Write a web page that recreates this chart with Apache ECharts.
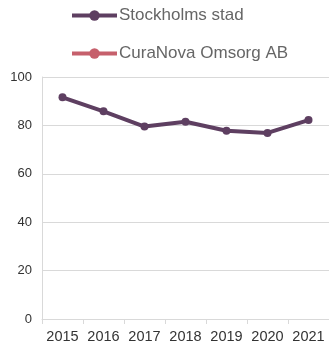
<!DOCTYPE html>
<html>
<head>
<meta charset="utf-8">
<script src="https://cdn.jsdelivr.net/npm/echarts@6/dist/echarts.min.js"></script>
<style>
  html, body { margin: 0; padding: 0; background: #fff; }
  #chart { width: 329px; height: 347px; }
</style>
</head>
<body>
<div id="chart"></div>
<script>
// Years on the category axis
const years = ['2015', '2016', '2017', '2018', '2019', '2020', '2021'];
// Yearly values per organisation
const stockholmsStad = [91.6, 85.8, 79.5, 81.5, 77.8, 76.9, 82.2];
const curaNova = [null, null, null, null, null, null, null];
// Value axis ticks
const yTicks = [0, 20, 40, 60, 80, 100];

const chart = echarts.init(document.getElementById('chart'), null, { renderer: 'canvas' });

chart.setOption({
  animation: false,
  legend: {
    orient: 'vertical',
    left: 65,
    top: 2,
    itemWidth: 45,
    itemHeight: 13,
    itemGap: 21,
    lineStyle: { width: 4 },
    textStyle: { fontFamily: 'Liberation Sans, Arial, sans-serif', fontSize: 17, color: '#666666', padding: [0, 0, 0, -3] },
    data: ['Stockholms stad', 'CuraNova Omsorg AB']
  },
  grid: { left: 42, right: -4, top: 77, bottom: 28, containLabel: false },
  xAxis: {
    type: 'category',
    data: years,
    boundaryGap: true,
    axisLine: { lineStyle: { color: '#d9d9d9', width: 1 } },
    axisTick: { show: true, length: 5, interval: 0, lineStyle: { color: '#d9d9d9' } },
    axisLabel: { interval: 0, fontFamily: 'Liberation Sans, Arial, sans-serif', fontSize: 14.5, color: '#333333', margin: 10 }
  },
  yAxis: {
    type: 'value',
    min: yTicks[0],
    max: yTicks[yTicks.length - 1],
    interval: 20,
    axisLine: { show: true, lineStyle: { color: '#d9d9d9', width: 1 } },
    axisTick: { show: false },
    splitLine: { lineStyle: { color: '#d9d9d9', width: 1 } },
    axisLabel: { fontFamily: 'Liberation Sans, Arial, sans-serif', fontSize: 13, color: '#333333', margin: 10 }
  },
  series: [
    {
      name: 'Stockholms stad',
      type: 'line',
      data: stockholmsStad,
      symbol: 'circle',
      symbolSize: 8,
      color: '#5e3f61',
      lineStyle: { width: 4, color: '#5e3f61' },
      itemStyle: { color: '#5e3f61' }
    },
    {
      name: 'CuraNova Omsorg AB',
      type: 'line',
      data: curaNova,
      symbol: 'circle',
      symbolSize: 8,
      color: '#c6606c',
      lineStyle: { width: 4, color: '#c6606c' },
      itemStyle: { color: '#c6606c' }
    }
  ]
});
</script>
</body>
</html>
